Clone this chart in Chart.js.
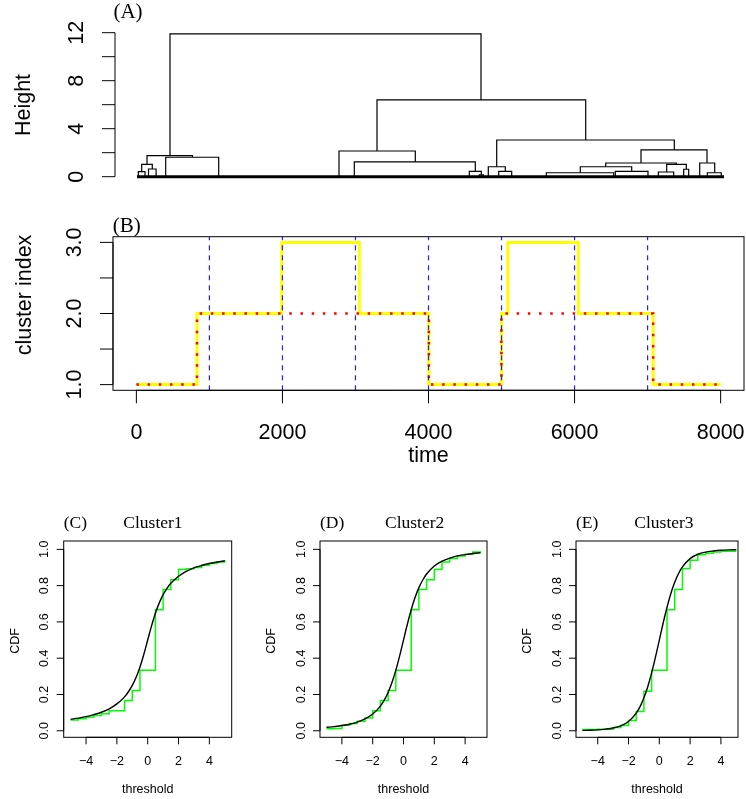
<!DOCTYPE html>
<html>
<head>
<meta charset="utf-8">
<script src="https://cdn.jsdelivr.net/npm/chart.js@4.4.1/dist/chart.umd.min.js"></script>
<style>
  html, body { margin: 0; padding: 0; background: #fff; }
  #wrap { position: relative; width: 746px; height: 799px; overflow: hidden; background: #fff; }
  #wrap canvas { position: absolute; left: 0; top: 0; pointer-events: none; }
</style>
</head>
<body>
<div id="wrap">
  <canvas id="panelA" width="746" height="799"></canvas>
  <canvas id="panelB" width="746" height="799"></canvas>
  <canvas id="panelC" width="746" height="799"></canvas>
  <canvas id="panelD" width="746" height="799"></canvas>
  <canvas id="panelE" width="746" height="799"></canvas>
</div>
<script>
// ---------- (A) hierarchical clustering tree ----------
// each merge joins a left and a right branch (leaf-order position) at a height
const mergeLeft      = [33, 10, 4.7, 1.3, 11.5, 28.7, 240, 202, 217.3, 332.3, 342.3, 359.7, 351.3, 361.7, 504, 468.7, 443.3, 409.3, 478.3, 529.7, 521.3, 546.7, 562.7, 570.3];
const mergeRight     = [344, 55.5, 15.3, 8, 19.1, 81.7, 448.7, 278.3, 338.3, 344.3, 346.3, 537.3, 368.3, 374.7, 570, 539.3, 494.7, 476.7, 511, 549.3, 536.7, 551.7, 577.7, 584.3];
const mergeHeight    = [11.9, 1.75, 1.03, 0.42, 0.64, 1.62, 6.4, 2.14, 1.23, 0.45, 0.15, 3.06, 0.83, 0.45, 2.23, 1.14, 0.83, 0.33, 0.45, 1.03, 0.39, 0.62, 1.14, 0.33];
const mergeLeftBase  = [1.75, 1.03, 0.42, 0, 0, 0, 2.14, 0, 0, 0, 0, 0.83, 0, 0, 1.14, 0.83, 0.33, 0, 0, 0.39, 0, 0, 0, 0];
const mergeRightBase = [6.4, 1.62, 0.64, 0, 0, 0, 3.06, 1.23, 0.45, 0.15, 0, 2.23, 0.45, 0, 1.14, 1.03, 0.45, 0, 0, 0.62, 0, 0, 0.33, 0];
const leafSpan = [0, 587];
const heightTicks = [0, 2, 4, 6, 8, 10, 12];
const heightTickLabels = ['0', '', '4', '', '8', '', '12'];

// ---------- (B) cluster index over time ----------
const estTime     = [0, 830, 1990, 3053, 4005, 4998, 5085, 6051, 7076, 8000];
const estCluster  = [1, 2, 3, 2, 1, 2, 3, 2, 1, 1];
const trueTime    = [0, 830, 4005, 4998, 7076, 8000];
const trueCluster = [1, 2, 1, 2, 1, 1];
const changeTimes = [1000, 2000, 3000, 4000, 5000, 6000, 7000];
const timeRange = [-320, 8320];
const clusterRange = [0.92, 3.08];
const timeTicks = [0, 2000, 4000, 6000, 8000];
const timeTickLabels = ['0', '2000', '4000', '6000', '8000'];
const clusterTicks = [1, 1.5, 2, 2.5, 3];
const clusterTickLabels = ['1.0', '', '2.0', '', '3.0'];

// ---------- (C)-(E) CDF per cluster ----------
const stepGrid = [-5, -4.5, -4, -3.5, -3, -2.5, -2, -1.5, -1, -0.5, 0, 0.5, 1, 1.5, 2, 2.5, 3, 3.5, 4, 4.5, 5];
const empirical1 = [0.059, 0.066, 0.075, 0.084, 0.094, 0.111, 0.111, 0.167, 0.222, 0.333, 0.333, 0.667, 0.778, 0.833, 0.889, 0.893, 0.900, 0.912, 0.922, 0.930, 0.940];
const empirical2 = [0.011, 0.013, 0.031, 0.040, 0.053, 0.070, 0.111, 0.167, 0.222, 0.333, 0.333, 0.667, 0.778, 0.833, 0.889, 0.930, 0.950, 0.963, 0.973, 0.986, 0.990];
const empirical3 = [0.007, 0.007, 0.008, 0.009, 0.018, 0.029, 0.057, 0.106, 0.218, 0.333, 0.333, 0.667, 0.778, 0.894, 0.940, 0.970, 0.978, 0.985, 0.990, 0.990, 0.990];
const curveGrid = [-5, -4.5, -4, -3.5, -3, -2.5, -2, -1.5, -1.25, -1, -0.75, -0.5, -0.25, 0, 0.25, 0.5, 0.75, 1, 1.25, 1.5, 2, 2.5, 3, 3.5, 4, 4.5, 5];
const fitted1 = [0.063, 0.070, 0.078, 0.089, 0.102, 0.121, 0.148, 0.187, 0.215, 0.250, 0.295, 0.352, 0.422, 0.500, 0.578, 0.648, 0.705, 0.750, 0.785, 0.813, 0.852, 0.879, 0.898, 0.911, 0.922, 0.930, 0.937];
const fitted2 = [0.019, 0.023, 0.029, 0.036, 0.048, 0.065, 0.092, 0.136, 0.169, 0.211, 0.266, 0.333, 0.413, 0.500, 0.587, 0.667, 0.734, 0.789, 0.831, 0.864, 0.908, 0.935, 0.952, 0.964, 0.971, 0.977, 0.981];
const fitted3 = [0.002, 0.003, 0.005, 0.009, 0.015, 0.027, 0.051, 0.097, 0.133, 0.182, 0.243, 0.319, 0.406, 0.500, 0.594, 0.681, 0.757, 0.818, 0.867, 0.903, 0.949, 0.973, 0.985, 0.991, 0.995, 0.997, 0.998];
const thresholdTicks = [-4, -2, 0, 2, 4];
const thresholdTickLabels = ['\u22124', '\u22122', '0', '2', '4'];
const cdfTicks = [0, 0.2, 0.4, 0.6, 0.8, 1];
const cdfTickLabels = ['0.0', '0.2', '0.4', '0.6', '0.8', '1.0'];

const SANS = '"Liberation Sans", Arial, Helvetica, sans-serif';
const SERIF = '"Liberation Serif", "Times New Roman", serif';
const W = 746, H = 799;

const zip = (xs, ys) => xs.map((v, i) => ({ x: v, y: ys[i] }));

// base-graphics style axes: ticks outside, labels parallel to the axis
const rAxes = {
  id: 'rAxes',
  afterDatasetsDraw(chart, args, o) {
    const { ctx, chartArea: a } = chart;
    const xs = chart.scales.x, ys = chart.scales.y;
    ctx.save();
    ctx.strokeStyle = '#000';
    ctx.fillStyle = '#000';
    ctx.lineWidth = 1;
    if (o.box) {
      ctx.strokeRect(a.left, a.top, a.right - a.left, a.bottom - a.top);
    }
    if (o.yAxis) {
      const ax = o.yAxis;
      const lx = a.left - ax.offset;
      const pts = ax.ticks.map(v => ys.getPixelForValue(v));
      ctx.beginPath();
      ctx.moveTo(lx, pts[0]);
      ctx.lineTo(lx, pts[pts.length - 1]);
      pts.forEach(p => { ctx.moveTo(lx, p); ctx.lineTo(lx - ax.len, p); });
      ctx.stroke();
      ctx.font = ax.font;
      ctx.textAlign = 'center';
      ctx.textBaseline = 'alphabetic';
      ax.labels.forEach((s, i) => {
        if (!s) return;
        ctx.save();
        ctx.translate(lx - ax.gap, pts[i]);
        ctx.rotate(-Math.PI / 2);
        ctx.fillText(s, 0, 0);
        ctx.restore();
      });
    }
    if (o.xAxis) {
      const ax = o.xAxis;
      const ly = a.bottom + ax.offset;
      const pts = ax.ticks.map(v => xs.getPixelForValue(v));
      ctx.beginPath();
      ctx.moveTo(pts[0], ly);
      ctx.lineTo(pts[pts.length - 1], ly);
      pts.forEach(p => { ctx.moveTo(p, ly); ctx.lineTo(p, ly + ax.len); });
      ctx.stroke();
      ctx.font = ax.font;
      ctx.textAlign = 'center';
      ctx.textBaseline = 'alphabetic';
      ax.labels.forEach((s, i) => { if (s) ctx.fillText(s, pts[i], ly + ax.gap); });
    }
    (o.texts || []).forEach(t => {
      ctx.font = t.font;
      ctx.textAlign = t.align || 'center';
      ctx.textBaseline = 'alphabetic';
      ctx.save();
      ctx.translate(t.x, t.y);
      if (t.rotate) ctx.rotate(-Math.PI / 2);
      ctx.fillText(t.text, 0, 0);
      ctx.restore();
    });
    ctx.restore();
  }
};

function baseOptions(area, xr, yr, axes) {
  return {
    responsive: false,
    animation: false,
    devicePixelRatio: 1,
    events: [],
    layout: { padding: { left: area.left, right: W - area.right, top: area.top, bottom: H - area.bottom } },
    scales: {
      x: { type: 'linear', min: xr[0], max: xr[1], display: false },
      y: { type: 'linear', min: yr[0], max: yr[1], display: false }
    },
    plugins: { legend: { display: false }, tooltip: { enabled: false }, rAxes: axes },
    elements: { point: { radius: 0 }, line: { tension: 0 } }
  };
}

// ---------- (A) ----------
const treeSets = mergeLeft.map((l, i) => ({
  data: [
    { x: l, y: mergeLeftBase[i] },
    { x: l, y: mergeHeight[i] },
    { x: mergeRight[i], y: mergeHeight[i] },
    { x: mergeRight[i], y: mergeRightBase[i] }
  ],
  showLine: true, borderColor: '#000', borderWidth: 1.2, pointRadius: 0, clip: false
}));
treeSets.push({
  data: [{ x: leafSpan[0], y: 0 }, { x: leafSpan[1], y: 0 }],
  showLine: true, borderColor: '#000', borderWidth: 3, pointRadius: 0, clip: false
});

new Chart(document.getElementById('panelA'), {
  type: 'scatter',
  data: { datasets: treeSets },
  options: baseOptions({ left: 137, right: 724, top: 32.7, bottom: 176.7 }, leafSpan, [0, 12], {
    yAxis: { ticks: heightTicks, labels: heightTickLabels, offset: 22, len: 13, gap: 32, font: '21.5px ' + SANS },
    texts: [
      { text: '(A)', x: 128, y: 18, font: '21px ' + SERIF },
      { text: 'Height', x: 30, y: 105, rotate: true, font: '21.5px ' + SANS }
    ]
  }),
  plugins: [rAxes]
});

// ---------- (B) ----------
const bSets = changeTimes.map(t => ({
  data: [{ x: t, y: clusterRange[0] }, { x: t, y: clusterRange[1] }],
  showLine: true, borderColor: '#1f1fff', borderWidth: 1.2, borderDash: [5, 5], pointRadius: 0
}));
bSets.push({
  data: zip(trueTime, trueCluster),
  showLine: true, stepped: true, borderColor: '#ff0000', borderWidth: 2.5, borderDash: [2.5, 8.7], pointRadius: 0
});
bSets.push({
  data: zip(estTime, estCluster),
  showLine: true, stepped: true, borderColor: '#ffff00', borderWidth: 3, pointRadius: 0
});

new Chart(document.getElementById('panelB'), {
  type: 'scatter',
  data: { datasets: bSets },
  options: baseOptions({ left: 113, right: 744, top: 236.7, bottom: 390.3 }, timeRange, clusterRange, {
    box: true,
    yAxis: { ticks: clusterTicks, labels: clusterTickLabels, offset: 0, len: 13, gap: 32, font: '21.5px ' + SANS },
    xAxis: { ticks: timeTicks, labels: timeTickLabels, offset: 0, len: 13, gap: 49, font: '21.5px ' + SANS },
    texts: [
      { text: '(B)', x: 126.7, y: 231.5, font: '21px ' + SERIF },
      { text: 'cluster index', x: 31, y: 295, rotate: true, font: '21.5px ' + SANS },
      { text: 'time', x: 428.5, y: 462, font: '21.5px ' + SANS }
    ]
  }),
  plugins: [rAxes]
});

// ---------- (C)-(E) ----------
function cdfPanel(id, area, xr, fitted, empirical, tag, name, nameX) {
  const cx = (area.left + area.right) / 2;
  new Chart(document.getElementById(id), {
    type: 'scatter',
    data: {
      datasets: [
        { data: zip(curveGrid, fitted), showLine: true, cubicInterpolationMode: 'monotone', borderColor: '#000', borderWidth: 1.4, pointRadius: 0 },
        { data: zip(stepGrid, empirical), showLine: true, stepped: true, borderColor: '#00ff00', borderWidth: 1.5, pointRadius: 0 }
      ]
    },
    options: baseOptions(area, xr, [-0.036, 1.046], {
      box: true,
      yAxis: { ticks: cdfTicks, labels: cdfTickLabels, offset: 0, len: 7, gap: 15.4, font: '12.5px ' + SANS },
      xAxis: { ticks: thresholdTicks, labels: thresholdTickLabels, offset: 0, len: 7, gap: 27.7, font: '12.5px ' + SANS },
      texts: [
        { text: tag, x: area.left, y: 528, align: 'left', font: '17.5px ' + SERIF },
        { text: name, x: nameX, y: 528, align: 'left', font: '17.5px ' + SERIF },
        { text: 'CDF', x: area.left - 44.7, y: 641, rotate: true, font: '12.5px ' + SANS },
        { text: 'threshold', x: cx, y: 793, font: '12.5px ' + SANS }
      ]
    }),
    plugins: [rAxes]
  });
}

cdfPanel('panelC', { left: 63.7, right: 231.7, top: 541, bottom: 737.3 }, [-5.45, 5.45], fitted1, empirical1, '(C)', 'Cluster1', 123.3);
cdfPanel('panelD', { left: 320, right: 487, top: 541, bottom: 737.3 }, [-5.42, 5.42], fitted2, empirical2, '(D)', 'Cluster2', 385);
cdfPanel('panelE', { left: 576, right: 738, top: 541, bottom: 737.3 }, [-5.41, 5.11], fitted3, empirical3, '(E)', 'Cluster3', 634.3);
</script>
</body>
</html>
